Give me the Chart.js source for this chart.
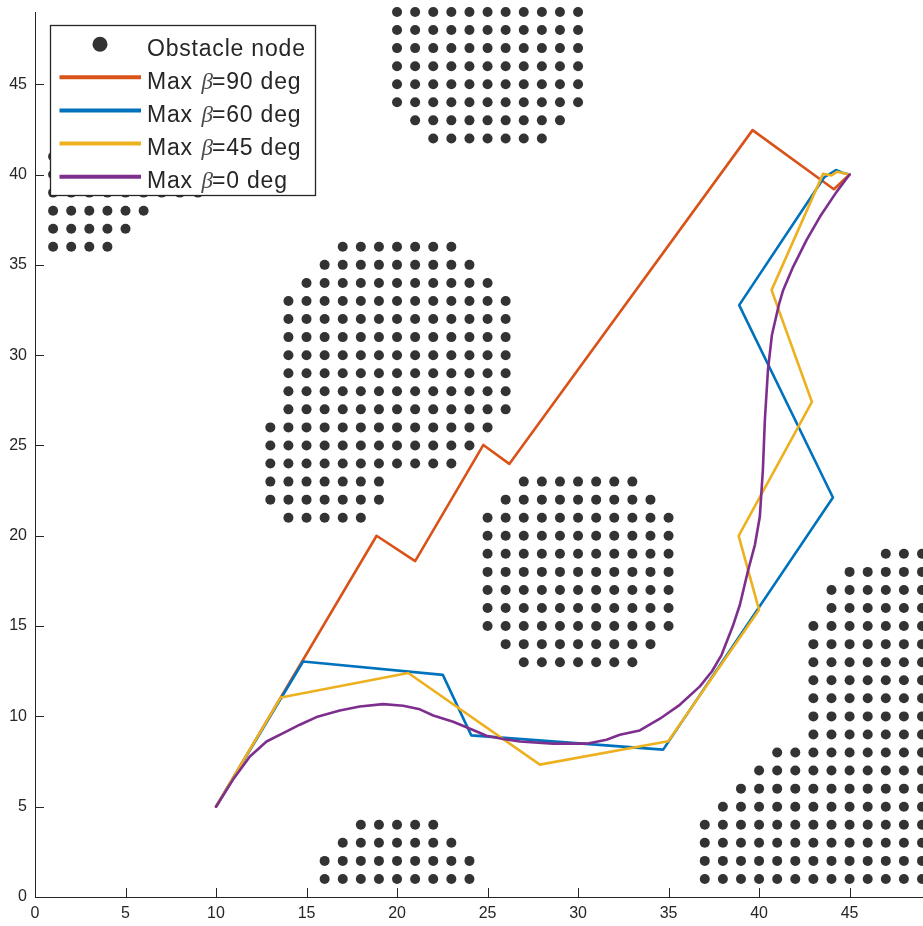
<!DOCTYPE html>
<html>
<head>
<meta charset="utf-8">
<script src="https://cdn.jsdelivr.net/npm/chart.js@4.4.1/dist/chart.umd.min.js"></script>
<style>
html,body{margin:0;padding:0;background:#ffffff;overflow:hidden}
canvas{display:block}
</style>
</head>
<body>
<canvas id="c" width="923" height="926"></canvas>
<script>
// ---------- data ----------
const xTicks = [0, 5, 10, 15, 20, 25, 30, 35, 40, 45];
const yTicks = [0, 5, 10, 15, 20, 25, 30, 35, 40, 45];

const seriesNames = ['Obstacle node', 'Max \u03b2=90 deg', 'Max \u03b2=60 deg', 'Max \u03b2=45 deg', 'Max \u03b2=0 deg'];

// obstacle nodes on the integer grid: [y, first x, last x] for each row of dots
const obstacleRows = [
  [49,20,30],[48,20,30],[47,20,30],[46,20,30],[45,20,30],[44,20,30],[43,21,29],[42,22,28],
  [41,1,9],[40,1,9],[39,1,9],[38,1,6],[37,1,5],[36,1,4],
  [36,17,23],[35,16,24],[34,15,25],[33,14,26],[32,14,26],[31,14,26],[30,14,26],[29,14,26],
  [28,14,26],[27,14,26],[26,13,25],[25,13,24],[24,13,23],[23,13,19],[22,13,19],[21,14,18],
  [23,27,33],[22,26,34],[21,25,35],[20,25,35],[19,25,35],[18,25,35],[17,25,35],[16,25,35],
  [15,25,35],[14,26,34],[13,27,33],
  [4,18,22],[3,17,23],[2,16,24],[1,16,24],
  [19,47,49],[18,45,49],[17,44,49],[16,44,49],[15,43,49],[14,43,49],[13,43,49],[12,43,49],
  [11,43,49],[10,43,49],[9,43,49],[8,41,49],[7,40,49],[6,39,49],[5,38,49],
  [4,37,49],[3,37,49],[2,37,49],[1,37,49]
];

const path90X = [10, 18.87, 21.0, 24.77, 26.2, 39.64, 44.13, 45];
const path90Y = [5, 20.0, 18.6, 25.03, 23.98, 42.46, 39.19, 40];

const path60X = [10, 14.81, 22.53, 24.1, 34.7, 44.08, 38.9, 43.6, 44.25, 44.6, 45];
const path60Y = [5, 13.04, 12.3, 8.95, 8.16, 22.12, 32.77, 39.85, 40.25, 40.1, 40];

const path45X = [10, 13.58, 20.62, 27.89, 34.98, 40.0, 38.87, 42.92, 40.69, 43.54, 44.0, 44.3, 45];
const path45Y = [5, 11.05, 12.4, 7.33, 8.62, 15.9, 19.99, 27.41, 33.6, 40.05, 39.95, 40.15, 40];

const path0X = [10, 10.94, 11.87, 12.79, 13.9, 14.63, 15.55, 16.84, 17.94, 19.23, 20.34, 21.26, 22.0, 23.1,
  24.2, 24.94, 25.86, 26.78, 28.62, 30.47, 31.57, 32.31, 33.41, 34.52, 35.62, 36.73, 37.4, 37.93, 38.55,
  38.94, 39.4, 39.77, 40.04, 40.21, 40.32, 40.49, 40.71, 41.09, 41.33, 41.88, 42.62, 43.36, 44.28, 45];
const path0Y = [5, 6.5, 7.78, 8.61, 9.17, 9.54, 9.96, 10.33, 10.55, 10.68, 10.59, 10.39, 10.05, 9.7,
  9.25, 8.93, 8.75, 8.61, 8.49, 8.49, 8.71, 8.98, 9.22, 9.87, 10.64, 11.66, 12.5, 13.41, 15.0,
  16.18, 18.11, 19.5, 21.05, 23.65, 26.42, 29.18, 31.12, 32.78, 33.6, 34.89, 36.37, 37.66, 39.04, 40];

// ---------- build datasets ----------
const obstaclePts = [];
obstacleRows.forEach(([y, a, b]) => { for (let x = a; x <= b; x++) obstaclePts.push({x, y}); });
const zip = (xs, ys) => xs.map((x, i) => ({x, y: ys[i]}));

const AX = '#262626';
const colors = ['#333333', '#D95319', '#0072BD', '#EDB120', '#7E2F8E'];

function pathDS(i, xs, ys, order) {
  return {
    label: seriesNames[i], data: zip(xs, ys), showLine: true, pointRadius: 0, pointHoverRadius: 0,
    borderColor: colors[i], backgroundColor: colors[i], borderWidth: 2.6, tension: 0,
    borderJoinStyle: 'round', borderCapStyle: 'round', order: order, clip: false
  };
}

const inwardTicks = {
  id: 'inwardTicks',
  beforeDatasetsDraw(chart) {
    const {ctx, chartArea: a, scales: {x, y}} = chart;
    const L = 9;
    ctx.save();
    ctx.strokeStyle = AX; ctx.lineWidth = 1;
    ctx.beginPath();
    x.ticks.forEach(t => { const p = Math.round(x.getPixelForValue(t.value)) + 0.5; ctx.moveTo(p, a.bottom); ctx.lineTo(p, a.bottom - L); });
    y.ticks.forEach(t => { const p = Math.round(y.getPixelForValue(t.value)) + 0.5; ctx.moveTo(a.left, p); ctx.lineTo(a.left + L, p); });
    ctx.stroke();
    ctx.restore();
  }
};

const boxLegend = {
  id: 'boxLegend',
  afterDraw(chart) {
    const ctx = chart.ctx;
    const ds = chart.data.datasets;
    const box = {l: 50.5, t: 25.5, r: 315.5, b: 195.5};
    const rowY = [44.2, 77.3, 110.5, 143.5, 176.7];
    const textX = 147;
    ctx.save();
    ctx.fillStyle = '#ffffff';
    ctx.fillRect(box.l, box.t, box.r - box.l, box.b - box.t);
    ctx.strokeStyle = AX; ctx.lineWidth = 1.3;
    ctx.strokeRect(box.l, box.t, box.r - box.l, box.b - box.t);
    ds.forEach((d, k) => {
      const yy = rowY[k];
      if (d.showLine) {
        ctx.strokeStyle = d.borderColor; ctx.lineWidth = 4; ctx.lineCap = 'butt';
        ctx.beginPath(); ctx.moveTo(59.5, yy); ctx.lineTo(141, yy); ctx.stroke();
      } else {
        ctx.fillStyle = d.backgroundColor;
        ctx.beginPath(); ctx.arc(100, yy, 7.5, 0, Math.PI * 2); ctx.fill();
      }
      ctx.fillStyle = AX;
      ctx.textBaseline = 'alphabetic'; ctx.textAlign = 'left';
      const base = yy + 11.5;
      const parts = d.label.split('\u03b2');
      ctx.font = '23px "Liberation Sans", Arial, sans-serif';
      try { ctx.letterSpacing = '0.8px'; } catch (e) {}
      ctx.fillText(parts[0].trim(), textX, base);
      if (parts.length > 1) {
        ctx.font = 'italic 23px "Liberation Serif", "DejaVu Serif", serif';
        try { ctx.letterSpacing = '0px'; } catch (e) {}
        ctx.fillStyle = '#4a4a4a';
        ctx.fillText('\u03b2', textX + 54.5, base);
        ctx.fillStyle = AX;
        ctx.font = '23px "Liberation Sans", Arial, sans-serif';
        try { ctx.letterSpacing = '0.8px'; } catch (e) {}
        ctx.fillText(parts[1], textX + 65, base);
      }
    });
    ctx.restore();
  }
};

const tickFont = {family: '"Liberation Sans", Arial, sans-serif', size: 16};

new Chart(document.getElementById('c'), {
  type: 'scatter',
  data: {
    datasets: [
      {label: seriesNames[0], data: obstaclePts, pointRadius: 5, pointHoverRadius: 5, pointBorderWidth: 0,
       backgroundColor: colors[0], borderColor: colors[0], showLine: false, order: 5, clip: false},
      pathDS(1, path90X, path90Y, 4),
      pathDS(2, path60X, path60Y, 3),
      pathDS(3, path45X, path45Y, 2),
      pathDS(4, path0X, path0Y, 1)
    ]
  },
  options: {
    responsive: false, animation: false, devicePixelRatio: 1,
    layout: {autoPadding: false, padding: {top: 12, right: 1, bottom: 0, left: 0}},
    plugins: {legend: {display: false}, tooltip: {enabled: false}},
    scales: {
      x: {
        type: 'linear', position: 'bottom', min: 0, max: 49,
        afterBuildTicks: s => { s.ticks = xTicks.map(v => ({value: v})); },
        afterFit: s => { s.height = 29; s.paddingLeft = 0; s.paddingRight = 0; s.paddingTop = 0; s.paddingBottom = 0; },
        grid: {display: false, drawTicks: false},
        border: {display: true, color: AX, width: 1},
        ticks: {color: AX, font: tickFont, padding: 7, maxRotation: 0, autoSkip: false, callback: v => String(v)}
      },
      y: {
        type: 'linear', position: 'left', min: 0, max: 49,
        afterBuildTicks: s => { s.ticks = yTicks.map(v => ({value: v})); },
        afterFit: s => { s.width = 35; s.paddingLeft = 0; s.paddingRight = 0; s.paddingTop = 0; s.paddingBottom = 0; },
        grid: {display: false, drawTicks: false},
        border: {display: true, color: AX, width: 1},
        ticks: {color: AX, font: tickFont, padding: 8, autoSkip: false, callback: v => String(v)}
      }
    }
  },
  plugins: [inwardTicks, boxLegend]
});
</script>
</body>
</html>
